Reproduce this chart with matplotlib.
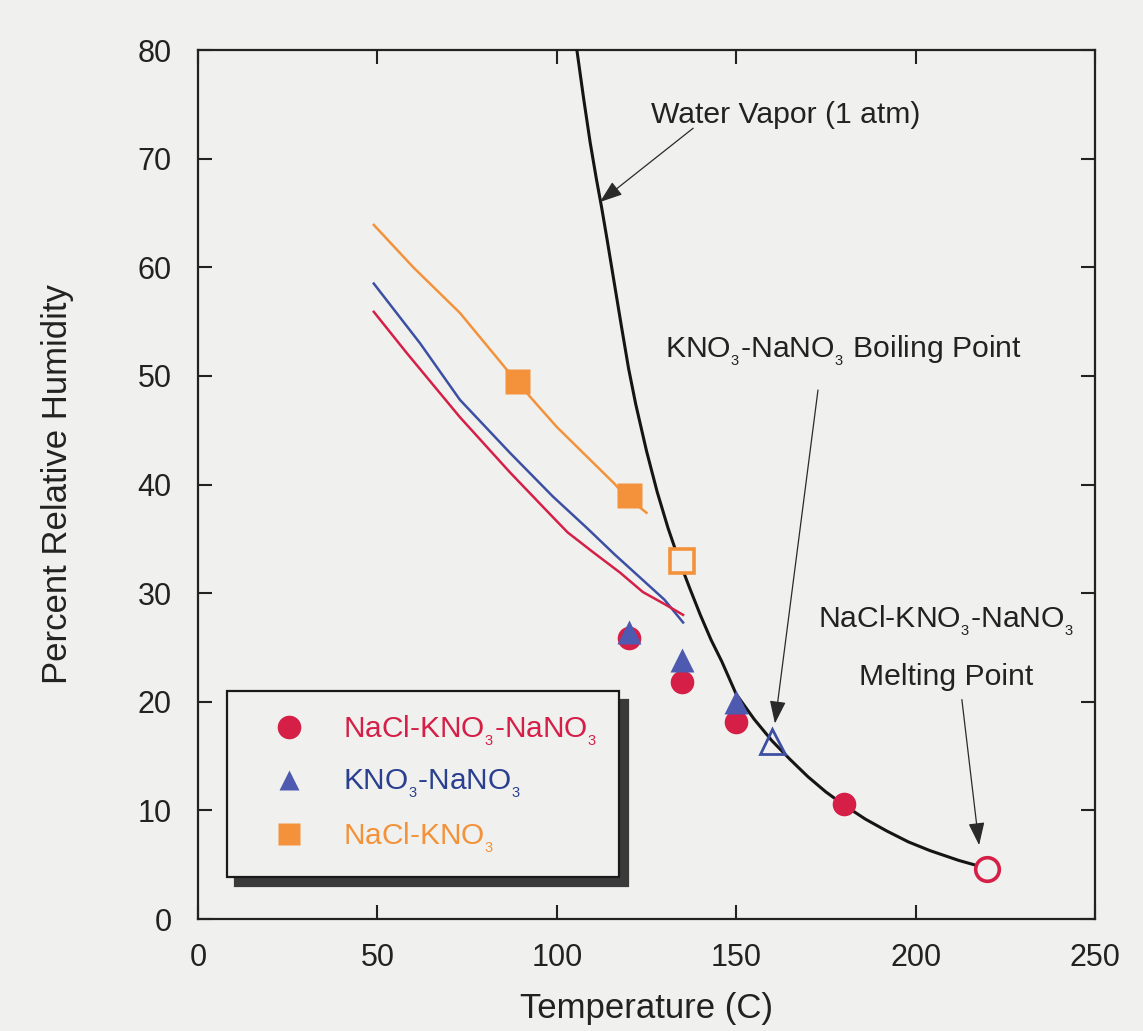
import matplotlib
matplotlib.use("Agg")
import matplotlib.pyplot as plt
from matplotlib.lines import Line2D

plt.rcParams['font.family'] = ['Liberation Sans', 'DejaVu Sans']
plt.rcParams['mathtext.fontset'] = 'custom'
plt.rcParams['mathtext.rm'] = 'Liberation Sans'
plt.rcParams['mathtext.it'] = 'Liberation Sans:italic'
plt.rcParams['mathtext.bf'] = 'Liberation Sans:bold'

# --- data ---
# water vapour boiling curve (1 atm)
vapor_t = [105.6, 107.5, 109.3, 111.0, 112.5, 114.0, 116.0, 118.0, 120.0,
           122.0, 125.0, 128.0, 131.0, 134.0, 137.0, 140.0, 143.0, 146.0,
           150.0, 155.0, 160.0, 165.0, 170.0, 175.0, 180.0, 186.0, 192.0,
           198.0, 204.0, 212.0, 219.5]
vapor_rh = [80.0, 75.5, 71.5, 68.2, 65.5, 62.6, 58.6, 54.6, 50.7,
            47.4, 43.1, 39.3, 36.0, 33.1, 30.5, 28.0, 25.7, 23.7,
            20.7, 18.4, 16.4, 14.7, 13.1, 11.7, 10.5, 9.2, 8.1,
            7.1, 6.3, 5.4, 4.7]

# deliquescence curves
red_t = [49, 58.2, 73, 87, 98.9, 103, 110, 117.6, 124, 130, 135.2]
red_rh = [55.9, 52.1, 46.2, 41.1, 37.0, 35.6, 33.8, 31.9, 30.1, 29.0, 28.0]

blue_t = [49, 61.9, 73, 87, 98.9, 108.4, 116, 124, 130, 135.2]
blue_rh = [58.5, 53.0, 47.8, 42.9, 38.9, 36.0, 33.6, 31.2, 29.4, 27.3]

orange_t = [49, 60, 73, 86, 89, 92.5, 100, 116, 119, 125]
orange_rh = [63.9, 60.0, 55.8, 50.6, 49.5, 48.1, 45.3, 40.1, 39.0, 37.4]

# measured points
circ_t = [120, 135, 150, 180]
circ_rh = [25.9, 21.8, 18.1, 10.6]
circ_open_t = [220]
circ_open_rh = [4.6]

tri_t = [120, 135, 150]
tri_rh = [26.4, 23.8, 20.0]
tri_open_t = [160]
tri_open_rh = [16.4]

sq_t = [89, 120]
sq_rh = [49.5, 39.0]
sq_open_t = [135]
sq_open_rh = [33.0]

RED = '#d51f47'
BLUE = '#3d4fa3'
TRI = '#4d5ab0'
ORANGE = '#f3923a'
BG = '#f0f1ef'
INK = '#222222'

fig = plt.figure(figsize=(11.43, 10.31), dpi=100, facecolor=BG)
ax = fig.add_axes([0.1732, 0.1086, 0.7848, 0.8429], facecolor=BG)

ax.plot(vapor_t, vapor_rh, color='#151515', lw=2.2, zorder=3)
ax.plot(orange_t, orange_rh, color=ORANGE, lw=1.8, zorder=2)
ax.plot(blue_t, blue_rh, color=BLUE, lw=1.8, zorder=2)
ax.plot(red_t, red_rh, color=RED, lw=1.8, zorder=2)

ax.plot(circ_t, circ_rh, 'o', color=RED, ms=17, mec='none', zorder=4)
ax.plot(tri_t, tri_rh, '^', color=TRI, ms=17, mec='none', zorder=5)
ax.plot(sq_t, sq_rh, 's', color=ORANGE, ms=18, mec='none', zorder=4)
ax.plot(circ_open_t, circ_open_rh, 'o', mfc=BG, mec=RED, mew=2.6, ms=17, zorder=5)
ax.plot(tri_open_t, tri_open_rh, '^', mfc='none', mec=BLUE, mew=2.0, ms=18, zorder=5)
ax.plot(sq_open_t, sq_open_rh, 's', mfc=BG, mec=ORANGE, mew=2.6, ms=17, zorder=5)

ax.set_xlim(0, 250)
ax.set_ylim(0, 80)
ax.set_xticks(range(0, 251, 50))
ax.set_yticks(range(0, 81, 10))
ax.tick_params(direction='in', length=10, width=1.5, top=True, right=True,
               labelsize=22, colors=INK)
ax.tick_params(axis='x', pad=17)
ax.tick_params(axis='y', pad=19)
for sp in ax.spines.values():
    sp.set_linewidth(1.6)
    sp.set_color(INK)

ax.set_xlabel('Temperature (C)', fontsize=25, color=INK, labelpad=14)
ax.set_ylabel('Percent Relative Humidity', fontsize=25, color=INK, labelpad=46)

# annotations
arrow = dict(arrowstyle='-|>,head_length=1.4,head_width=0.5', color='#2a2a2a',
             lw=0.9, shrinkA=0, shrinkB=0)
ax.text(163.9, 73.3, 'Water Vapor (1 atm)', fontsize=21.7, ha='center',
        va='baseline', color=INK)
ax.annotate('', xy=(112.0, 66.0), xytext=(138.0, 72.8), arrowprops=arrow)

ax.text(179.8, 51.7, r'KNO$_{_3}$-NaNO$_{_3}$ Boiling Point', fontsize=21.7,
        ha='center', va='baseline', color=INK)
ax.annotate('', xy=(160.8, 18.0), xytext=(172.8, 48.7), arrowprops=arrow)

ax.text(208.5, 26.8, r'NaCl-KNO$_{_3}$-NaNO$_{_3}$', fontsize=21.7,
        ha='center', va='baseline', color=INK)
ax.text(208.5, 21.5, 'Melting Point', fontsize=21.7, ha='center',
        va='baseline', color=INK)
ax.annotate('', xy=(217.7, 6.8), xytext=(212.9, 20.2), arrowprops=arrow)

# legend
handles = [
    Line2D([], [], ls='none', marker='o', color=RED, ms=17, mec='none'),
    Line2D([], [], ls='none', marker='^', color=TRI, ms=15, mec='none'),
    Line2D([], [], ls='none', marker='s', color=ORANGE, ms=16, mec='none'),
]
labels = [r'NaCl-KNO$_{_3}$-NaNO$_{_3}$', r'KNO$_{_3}$-NaNO$_{_3}$',
          r'NaCl-KNO$_{_3}$']
leg = ax.legend(handles, labels, loc='upper left', bbox_to_anchor=(0.032, 0.262),
                fontsize=21.5, frameon=True, fancybox=False, borderpad=0.75,
                handletextpad=0.45, labelspacing=0.68, borderaxespad=0,
                handlelength=2.7,
                shadow={'ox': 6, 'oy': -6, 'color': '#3a3a3a', 'alpha': 1})
leg.get_frame().set_edgecolor('#1a1a1a')
leg.get_frame().set_linewidth(1.6)
leg.get_frame().set_facecolor(BG)
for txt, col in zip(leg.get_texts(), [RED, '#2a3f8f', ORANGE]):
    txt.set_color(col)

fig.savefig('out.png', dpi=100, facecolor=BG)
